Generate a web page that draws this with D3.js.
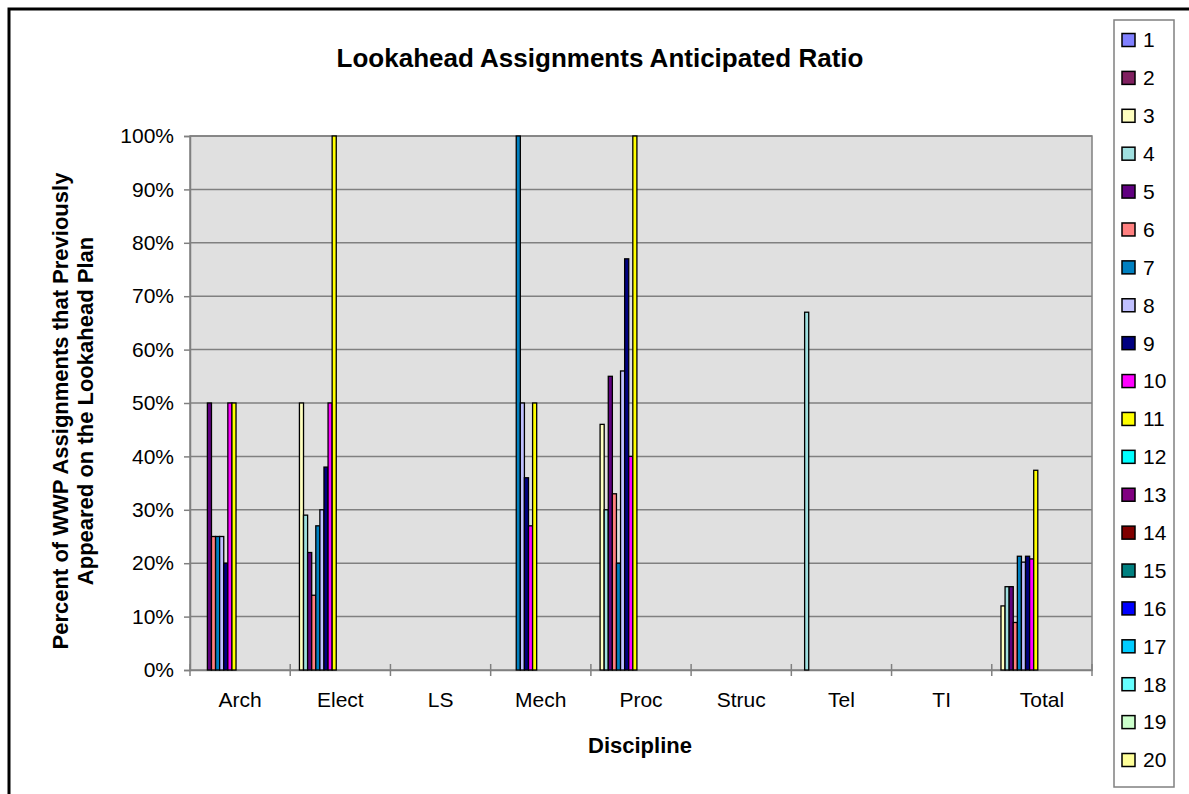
<!DOCTYPE html>
<html>
<head>
<meta charset="utf-8">
<script src="https://cdn.jsdelivr.net/npm/d3@7"></script>
<style>
  body { margin: 0; background: #fff; }
  text { font-family: "Liberation Sans", Arial, sans-serif; }
</style>
</head>
<body>
<div id="chart"></div>
<script>
let w = 1189;
let h = 794;

// categories on the x axis
let categories = ["Arch", "Elect", "LS", "Mech", "Proc", "Struc", "Tel", "TI", "Total"];
// legend series
let seriesNames = ["1","2","3","4","5","6","7","8","9","10","11","12","13","14","15","16","17","18","19","20"];
let seriesColors = ["#8080ff","#802060","#ffffc0","#a0e0e0","#600080","#ff8080","#0080c0","#c0c0ff","#000080","#ff00ff",
                    "#ffff00","#00ffff","#800080","#800000","#008080","#0000ff","#00ccff","#66ffff","#ccffcc","#ffff99"];
let yTicks = [0, 0.1, 0.2, 0.3, 0.4, 0.5, 0.6, 0.7, 0.8, 0.9, 1];

// values per discipline, one per series 1..20 (ratio)
let arch  = [0, 0, 0, 0, 0.50, 0.25, 0.25, 0.25, 0.20, 0.50, 0.50, 0, 0, 0, 0, 0, 0, 0, 0, 0];
let elect = [0, 0, 0.50, 0.29, 0.22, 0.14, 0.27, 0.30, 0.38, 0.50, 1.00, 0, 0, 0, 0, 0, 0, 0, 0, 0];
let ls    = [0, 0, 0, 0, 0, 0, 0, 0, 0, 0, 0, 0, 0, 0, 0, 0, 0, 0, 0, 0];
let mech  = [0, 0, 0, 0, 0, 0, 1.00, 0.50, 0.36, 0.27, 0.50, 0, 0, 0, 0, 0, 0, 0, 0, 0];
let proc  = [0, 0, 0.46, 0.30, 0.55, 0.33, 0.20, 0.56, 0.77, 0.40, 1.00, 0, 0, 0, 0, 0, 0, 0, 0, 0];
let struc = [0, 0, 0, 0, 0, 0, 0, 0, 0, 0, 0, 0, 0, 0, 0, 0, 0, 0, 0, 0];
let tel   = [0, 0, 0, 0.67, 0, 0, 0, 0, 0, 0, 0, 0, 0, 0, 0, 0, 0, 0, 0, 0];
let ti    = [0, 0, 0, 0, 0, 0, 0, 0, 0, 0, 0, 0, 0, 0, 0, 0, 0, 0, 0, 0];
let total = [0, 0, 0.12, 0.156, 0.156, 0.089, 0.213, 0.202, 0.213, 0.208, 0.374, 0, 0, 0, 0, 0, 0, 0, 0, 0];

let valuesByCategory = [arch, elect, ls, mech, proc, struc, tel, ti, total];

let viz = d3.select("#chart")
  .append("svg")
  .attr("width", w)
  .attr("height", h);

// chart frame
viz.append("rect")
  .attr("x", 9).attr("y", 9)
  .attr("width", w + 20).attr("height", h + 20)
  .attr("fill", "white")
  .attr("stroke", "black")
  .attr("stroke-width", 3);

// scales
let x0 = d3.scaleBand().domain(categories).range([190, 1092]);
let slot = x0.bandwidth() / 24.5;
let x1 = d3.scaleBand().domain(seriesNames).range([slot * 0.25, slot * 20.25]);
let color = d3.scaleOrdinal().domain(seriesNames).range(seriesColors);
let y = d3.scaleLinear().domain([0, 1]).range([670, 136]);

// plot area
viz.append("rect")
  .attr("x", x0.range()[0]).attr("y", y(1))
  .attr("width", x0.range()[1] - x0.range()[0])
  .attr("height", y(0) - y(1))
  .attr("fill", "#e0e0e0")
  .attr("stroke", "#808080")
  .attr("stroke-width", 1.5);

// gridlines
viz.selectAll(".grid").data(yTicks.slice(1)).enter()
  .append("line")
  .attr("class", "grid")
  .attr("x1", x0.range()[0]).attr("x2", x0.range()[1])
  .attr("y1", d => y(d)).attr("y2", d => y(d))
  .attr("stroke", "#808080")
  .attr("stroke-width", 1.5);

// y axis
let yAxisGroup = viz.append("g").attr("transform", "translate(" + x0.range()[0] + ",0)");
yAxisGroup.call(d3.axisLeft(y).tickValues(yTicks).tickFormat(d3.format(".0%")).tickSize(6).tickPadding(10));
yAxisGroup.select(".domain").attr("stroke", "#808080").attr("stroke-width", 1.5);
yAxisGroup.selectAll(".tick line").attr("stroke", "#808080").attr("stroke-width", 1.5);
yAxisGroup.selectAll("text").attr("font-size", 21).attr("fill", "black")
  .attr("font-family", "Liberation Sans, Arial, sans-serif");

// x axis labels
let xAxisGroup = viz.append("g").attr("transform", "translate(0," + y(0) + ")");
xAxisGroup.call(d3.axisBottom(x0).tickSize(0).tickPadding(22));
xAxisGroup.select(".domain").attr("stroke", "#808080").attr("stroke-width", 1.5);
xAxisGroup.selectAll("text").attr("font-size", 21).attr("fill", "black")
  .attr("font-family", "Liberation Sans, Arial, sans-serif");

// x axis cross ticks on category boundaries
let boundaries = categories.map(c => x0(c)).concat([x0.range()[1]]);
viz.selectAll(".xtick").data(boundaries).enter()
  .append("line")
  .attr("class", "xtick")
  .attr("x1", d => d).attr("x2", d => d)
  .attr("y1", y(0) - 6).attr("y2", y(0) + 6)
  .attr("stroke", "#808080")
  .attr("stroke-width", 1.5);

// bars
let barData = [];
categories.forEach((c, i) => {
  seriesNames.forEach((s, j) => {
    barData.push({ category: c, series: s, value: valuesByCategory[i][j] });
  });
});

viz.selectAll(".bar").data(barData.filter(d => d.value > 0)).enter()
  .append("rect")
  .attr("class", "bar")
  .attr("x", d => x0(d.category) + x1(d.series))
  .attr("y", d => y(d.value))
  .attr("width", x1.bandwidth())
  .attr("height", d => y(0) - y(d.value))
  .attr("fill", d => color(d.series))
  .attr("stroke", "black")
  .attr("stroke-width", 1.3);

// title
viz.append("text")
  .attr("x", 600).attr("y", 67)
  .attr("text-anchor", "middle")
  .attr("font-size", 26).attr("font-weight", "bold")
  .text("Lookahead Assignments Anticipated Ratio");

// y axis title
let yTitle = viz.append("text")
  .attr("transform", "translate(70,411) rotate(-90)")
  .attr("text-anchor", "middle")
  .attr("font-size", 22).attr("font-weight", "bold");
yTitle.append("tspan").attr("x", 0).attr("dy", -2).text("Percent of WWP Assignments that Previously");
yTitle.append("tspan").attr("x", 0).attr("dy", 25).text("Appeared on the Lookahead Plan");

// x axis title
viz.append("text")
  .attr("x", 640).attr("y", 753)
  .attr("text-anchor", "middle")
  .attr("font-size", 22).attr("font-weight", "bold")
  .text("Discipline");

// legend
viz.append("rect")
  .attr("x", 1114).attr("y", 20)
  .attr("width", 60).attr("height", 767)
  .attr("fill", "white")
  .attr("stroke", "#808080")
  .attr("stroke-width", 1.5);

let legendY = d3.scalePoint().domain(seriesNames).range([40, 760]);

let legendItems = viz.selectAll(".legenditem").data(seriesNames).enter()
  .append("g")
  .attr("class", "legenditem")
  .attr("transform", d => "translate(1122," + legendY(d) + ")");

legendItems.append("rect")
  .attr("x", 0).attr("y", -6.5)
  .attr("width", 13).attr("height", 13)
  .attr("fill", d => color(d))
  .attr("stroke", "black")
  .attr("stroke-width", 1.5);

legendItems.append("text")
  .attr("x", 21).attr("y", 0)
  .attr("dy", "0.35em")
  .attr("font-size", 21)
  .text(d => d);
</script>
</body>
</html>
